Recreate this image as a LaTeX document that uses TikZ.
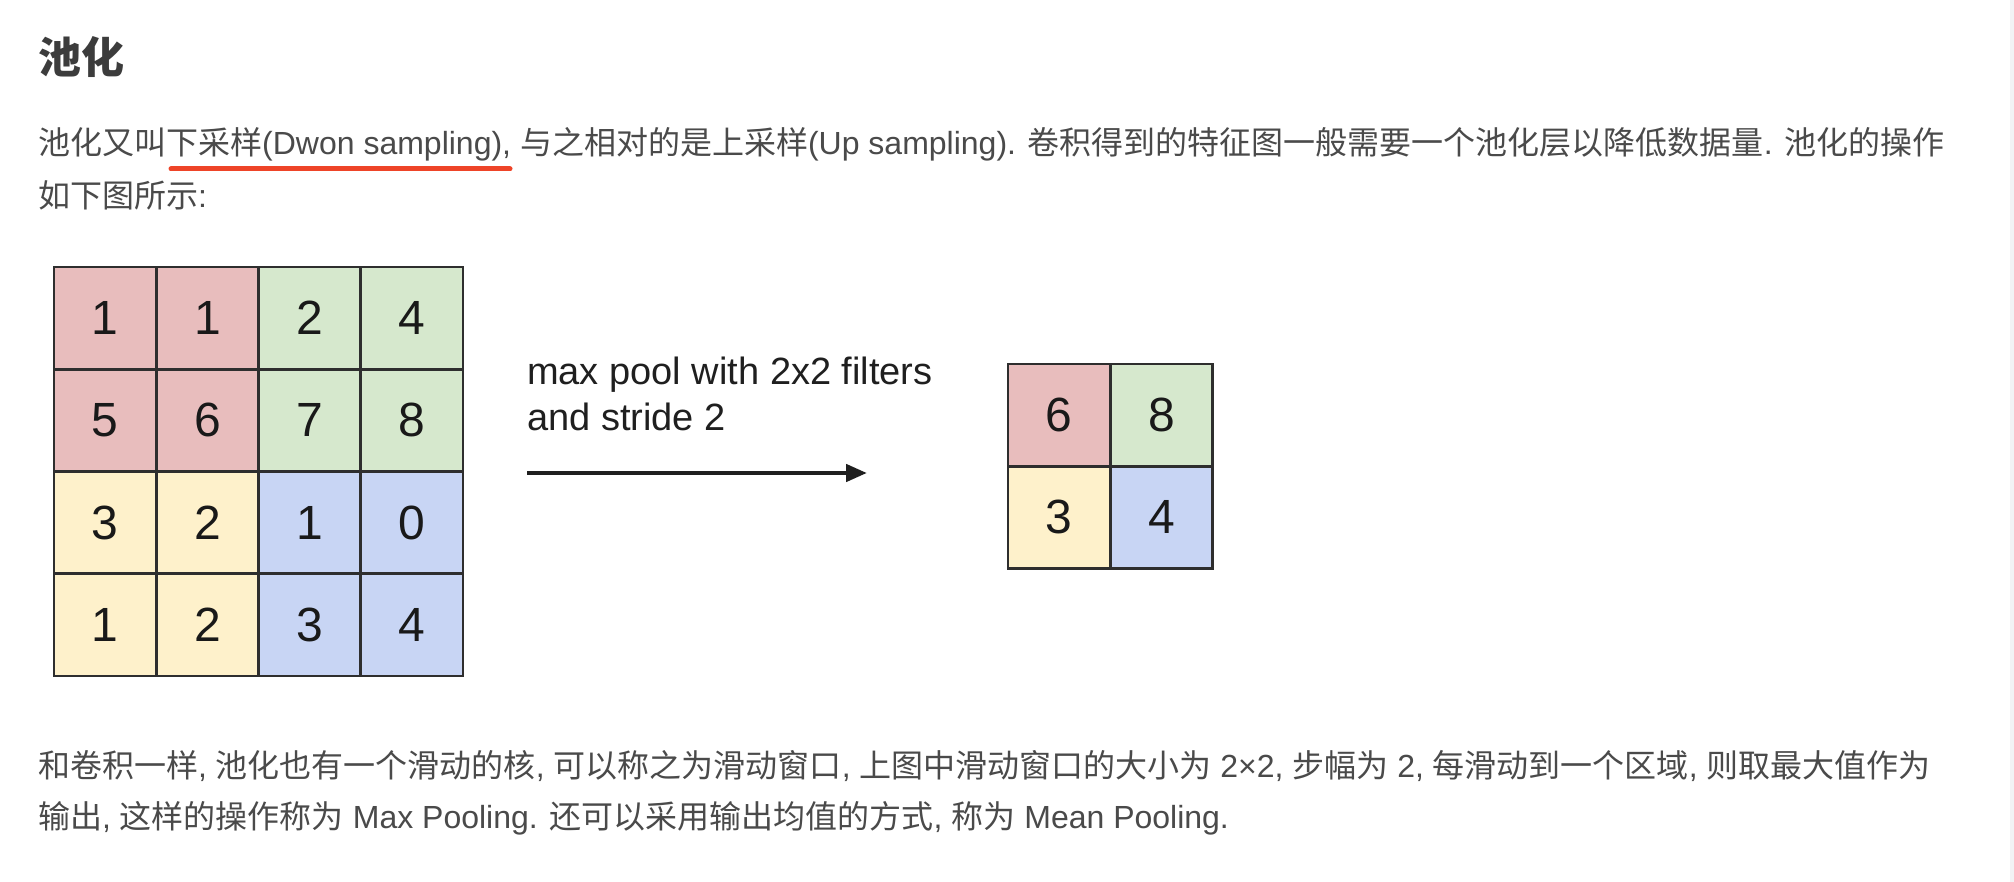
\documentclass[tikz,border=0pt]{standalone}
\usepackage{fontspec}
\setmainfont{Liberation Sans}
\newfontfamily\cjkf{Noto Sans CJK SC}
\newcommand\zh[1]{{\cjkf #1}}
\usetikzlibrary{arrows.meta}
\definecolor{txt}{HTML}{4A4A4A}
\definecolor{ttl}{HTML}{3C3C3C}
\definecolor{ulred}{HTML}{EE4428}
\definecolor{gridc}{HTML}{2E2E2E}
\definecolor{cred}{HTML}{E8BDBD}
\definecolor{cgreen}{HTML}{D6E8CD}
\definecolor{cyellow}{HTML}{FEF1CB}
\definecolor{cblue}{HTML}{C8D5F4}
\definecolor{barc}{HTML}{F2F3F5}
\tikzset{
  para/.style={anchor=base west, inner sep=0pt, text=txt, font=\fontsize{32}{38}\selectfont},
  lbl/.style={anchor=base west, inner sep=0pt, text=black!88, font=\fontsize{38}{44}\selectfont},
  cell/.style={draw=gridc, line width=2.5pt, minimum size=102.25pt, inner sep=0pt,
    text=black!90, font=\fontsize{48}{56}\selectfont},
  rc/.style={cell, fill=cred},
  gc/.style={cell, fill=cgreen},
  yc/.style={cell, fill=cyellow},
  bc/.style={cell, fill=cblue},
  arr/.style={line width=4.5pt, draw=black!88, -{Triangle[length=21pt,width=17pt]}},
}
\begin{document}
\begin{tikzpicture}[x=1pt,y=-1pt]
\useasboundingbox (0,0) rectangle (2014,882);
\fill[white] (0,0) rectangle (2014,882);
\fill[barc] (2010,0) rectangle (2014,882);
% title
\node[anchor=base west, inner sep=0pt, text=ttl, font=\fontsize{43}{50}\selectfont\cjkf\bfseries] (title) at (38,74) {池化};
% first paragraph
\node[para] (p1) at (38,155) {\zh{池化又叫下采样}(Dwon sampling), \zh{与之相对的是上采样}(Up sampling). \zh{卷积得到的特征图一般需要一个池化层以降低数据量}. \zh{池化的操作}};
\node[para] (p2) at (38,208) {\zh{如下图所示}:};
\draw[ulred, line width=5pt, line cap=round] (171,169) -- (510,169);
% input grid
\node[rc] (a11) at (105.1,318.1) {1};
\node[rc] (a12) at (207.4,318.1) {1};
\node[gc] (a13) at (309.6,318.1) {2};
\node[gc] (a14) at (411.9,318.1) {4};
\node[rc] (a21) at (105.1,420.4) {5};
\node[rc] (a22) at (207.4,420.4) {6};
\node[gc] (a23) at (309.6,420.4) {7};
\node[gc] (a24) at (411.9,420.4) {8};
\node[yc] (a31) at (105.1,522.6) {3};
\node[yc] (a32) at (207.4,522.6) {2};
\node[bc] (a33) at (309.6,522.6) {1};
\node[bc] (a34) at (411.9,522.6) {0};
\node[yc] (a41) at (105.1,624.9) {1};
\node[yc] (a42) at (207.4,624.9) {2};
\node[bc] (a43) at (309.6,624.9) {3};
\node[bc] (a44) at (411.9,624.9) {4};
% label and arrow
\node[lbl] (l1) at (527,385) {max pool with 2x2 filters};
\node[lbl] (l2) at (527,431) {and stride 2};
\coordinate (s) at (527,473);
\coordinate (e) at (867,473);
\draw[arr] (s) -- (e);
% output grid
\node[rc] (b11) at (1059.1,415.1) {6};
\node[gc] (b12) at (1161.4,415.1) {8};
\node[yc] (b21) at (1059.1,517.4) {3};
\node[bc] (b22) at (1161.4,517.4) {4};
% bottom paragraph
\node[para] (q1) at (38,777) {\zh{和卷积一样}, \zh{池化也有一个滑动的核}, \zh{可以称之为滑动窗口}, \zh{上图中滑动窗口的大小为} 2×2, \zh{步幅为} 2, \zh{每滑动到一个区域}, \zh{则取最大值作为}};
\node[para] (q2) at (38,828) {\zh{输出}, \zh{这样的操作称为} Max Pooling. \zh{还可以采用输出均值的方式}, \zh{称为} Mean Pooling.};
\end{tikzpicture}
\end{document}
